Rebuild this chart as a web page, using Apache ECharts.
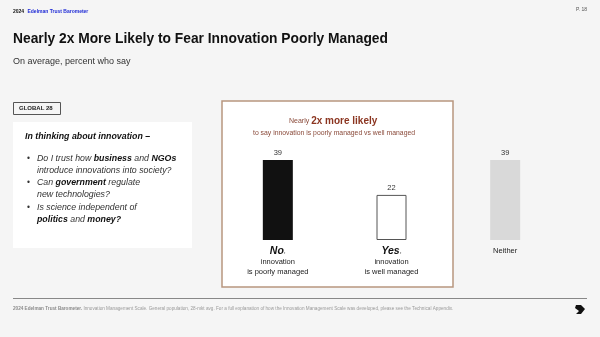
<!DOCTYPE html>
<html>
<head>
<meta charset="utf-8">
<script src="https://cdn.jsdelivr.net/npm/echarts@6/dist/echarts.min.js"></script>
<style>
  html, body { margin: 0; padding: 0; background: #f5f5f5; }
  #main { width: 600px; height: 337px; }
</style>
</head>
<body>
<div id="main"></div>
<script>
var categories = ['No', 'Yes', 'Neither'];
var values = [39, 22, 39];
var subLabels = [['innovation', 'is poorly managed'], ['innovation', 'is well managed'], []];
var barColors = ['#111111', '#ffffff', '#d9d9d9'];

var FONT = '"Liberation Sans", Arial, sans-serif';

var chart = echarts.init(document.getElementById('main'));

function bullet(y, lines) {
    return [
        { type: 'text', left: 27, top: y + 1, style: { text: '•', font: '8.5px ' + FONT, fill: '#333' } },
        { type: 'text', left: 37, top: y, style: {
            text: lines,
            fontFamily: FONT, fontSize: 8.8, fontStyle: 'italic', fill: '#333', lineHeight: 11.5,
            rich: {
                b: { fontFamily: FONT, fontSize: 8.8, fontStyle: 'italic', fontWeight: 'bold', fill: '#111', lineHeight: 11.5 }
            }
        } }
    ];
}

var option = {
    backgroundColor: '#f5f5f5',
    animation: false,
    textStyle: { fontFamily: FONT },
    grid: { left: 221, right: 38, top: 137.5, bottom: 97, containLabel: false },
    graphic: [
        // header
        { type: 'text', left: 13, top: 6, style: {
            text: '{k|2024} {b|Edelman Trust Barometer}',
            rich: {
                k: { fontFamily: FONT, fontSize: 5, fontWeight: 'bold', fill: '#111' },
                b: { fontFamily: FONT, fontSize: 5, fontWeight: 'bold', fill: '#1f2bd6' }
            }
        } },
        { type: 'text', right: 13, top: 7, style: { text: 'P. 18', font: '5px ' + FONT, fill: '#555' } },
        { type: 'text', left: 13, top: 32, style: { text: 'Nearly 2x More Likely to Fear Innovation Poorly Managed', font: 'bold 13.8px ' + FONT, fill: '#111' } },
        { type: 'text', left: 13, top: 57.5, style: { text: 'On average, percent who say', font: '9px ' + FONT, fill: '#333' } },
        // global 28 tag
        { type: 'rect', shape: { x: 13.5, y: 102.5, width: 47, height: 12 }, style: { fill: 'none', stroke: '#555', lineWidth: 1 } },
        { type: 'text', left: 19, top: 105.5, style: { text: 'GLOBAL 28', font: 'bold 6px ' + FONT, fill: '#222' } },
        // left white panel
        { type: 'rect', shape: { x: 13, y: 122, width: 179, height: 126 }, style: { fill: '#ffffff' } },
        { type: 'text', left: 25, top: 132.5, style: { text: 'In thinking about innovation –', font: 'italic bold 8.8px ' + FONT, fill: '#111' } }
    ]
    .concat(bullet(153, 'Do I trust how {b|business} and {b|NGOs}\nintroduce innovations into society?'))
    .concat(bullet(177, 'Can {b|government} regulate\nnew technologies?'))
    .concat(bullet(202, 'Is science independent of\n{b|politics} and {b|money?}'))
    .concat([
        // outlined box around No / Yes
        { type: 'rect', z: -1, shape: { x: 222, y: 101, width: 231, height: 186 }, style: { fill: '#ffffff', stroke: '#b8967f', lineWidth: 1.5 } },
        { type: 'text', left: 289, top: 116.5, style: {
            text: '{s|Nearly }{b|2x more likely}',
            rich: {
                s: { fontFamily: FONT, fontSize: 7, fill: '#8a4a3a' },
                b: { fontFamily: FONT, fontSize: 10, fontWeight: 'bold', fill: '#8b3520' }
            }
        } },
        { type: 'text', top: 129.5, left: 253, style: { text: 'to say innovation is poorly managed vs well managed', font: '6.85px ' + FONT, fill: '#8a4a3a' } },
        // footer
        { type: 'line', shape: { x1: 13, y1: 298.5, x2: 587, y2: 298.5 }, style: { stroke: '#888', lineWidth: 1 } },
        { type: 'text', left: 13, top: 306.5, style: {
            text: '{b|2024 Edelman Trust Barometer.} Innovation Management Scale. General population, 28-mkt avg. For a full explanation of how the Innovation Management Scale was developed, please see the Technical Appendix.',
            fontFamily: FONT, fontSize: 4.65, fill: '#9a9a9a',
            rich: { b: { fontFamily: FONT, fontSize: 4.65, fontWeight: 'bold', fill: '#8a8a8a' } }
        } },
        { type: 'polygon', shape: { points: [[576, 305], [581, 305], [585, 309], [581, 314], [576, 314], [579, 311], [575, 308]] }, style: { fill: '#111' } }
    ]),
    xAxis: {
        type: 'category',
        data: categories,
        axisLine: { show: false },
        axisTick: { show: false },
        axisLabel: {
            margin: 5.5,
            interval: 0,
            formatter: function (val, idx) {
                if (val === 'Neither') return '{nb|Neither}';
                var s = '{b|' + val + '}{c|,}';
                subLabels[idx].forEach(function (t) { s += '\n{s|' + t + '}'; });
                return s;
            },
            rich: {
                b: { fontFamily: FONT, fontSize: 10.5, fontStyle: 'italic', fontWeight: 'bold', color: '#111', lineHeight: 12 },
                c: { fontFamily: FONT, fontSize: 7, color: '#333', lineHeight: 12 },
                s: { fontFamily: FONT, fontSize: 7.5, color: '#222', lineHeight: 9.8 },
                nb: { fontFamily: FONT, fontSize: 7.5, color: '#222', lineHeight: 10 }
            }
        }
    },
    yAxis: {
        type: 'value',
        min: 0,
        max: 50,
        show: false
    },
    series: [{
        type: 'bar',
        barWidth: 30,
        data: values.map(function (v, i) {
            return {
                value: v,
                itemStyle: {
                    color: barColors[i],
                    borderColor: i === 1 ? '#555' : barColors[i],
                    borderWidth: i === 1 ? 1 : 0
                }
            };
        }),
        label: {
            show: true,
            position: 'top',
            distance: 3,
            fontFamily: FONT,
            fontSize: 7.5,
            color: '#333'
        }
    }]
};

chart.setOption(option);
</script>
</body>
</html>
